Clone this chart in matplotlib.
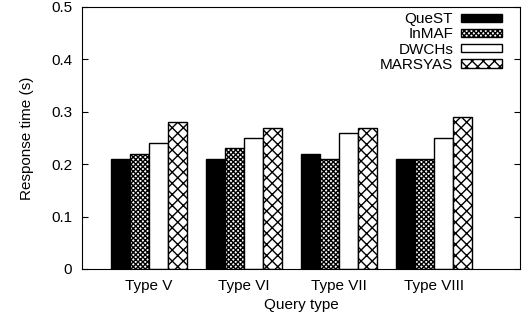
import matplotlib.pyplot as plt
import numpy as np

plt.rcParams["font.family"] = ["Liberation Sans", "DejaVu Sans"]
plt.rcParams["hatch.linewidth"] = 1.0

# data
query_types = ["Type V", "Type VI", "Type VII", "Type VIII"]
methods = ["QueST", "InMAF", "DWCHs", "MARSYAS"]
quest = [0.21, 0.21, 0.22, 0.21]
inmaf = [0.22, 0.23, 0.21, 0.21]
dwchs = [0.24, 0.25, 0.26, 0.25]
marsyas = [0.28, 0.27, 0.27, 0.29]
y_ticks = [0, 0.1, 0.2, 0.3, 0.4, 0.5]

series = [quest, inmaf, dwchs, marsyas]
faces = ["black", "white", "white", "white"]
hatches = [None, "xxxxxxx", None, "xxx"]

fig = plt.figure(figsize=(5.27, 3.22), dpi=100)
ax = fig.add_axes([82 / 527, (322 - 269) / 322, 438 / 527, 262 / 322])

x = np.arange(len(query_types))
width = 0.2
for i, (name, vals) in enumerate(zip(methods, series)):
    ax.bar(x + (i - 1.5) * width, vals, width, color=faces[i], edgecolor="black",
           hatch=hatches[i], linewidth=1.0, label=name)

ax.set_xlim(-0.705, 3.905)
ax.set_ylim(0, 0.5)
ax.set_yticks(y_ticks)
ax.set_yticklabels(["0", "0.1", "0.2", "0.3", "0.4", "0.5"])
ax.set_xticks(x)
ax.set_xticklabels(query_types)
ax.tick_params(axis="y", direction="in", right=True, length=4, labelsize=11, pad=7)
ax.tick_params(axis="x", length=0, labelsize=11, pad=7)
ax.set_xlabel("Query type", fontsize=11, labelpad=4)
ax.set_ylabel("Response time (s)", fontsize=11, labelpad=12)

ax.legend(loc="upper right", bbox_to_anchor=(0.959, 0.98), frameon=False,
          markerfirst=False, fontsize=11, handlelength=2.7, handleheight=0.45,
          labelspacing=0.08, borderaxespad=0, borderpad=0, handletextpad=0.5)

fig.savefig("out.png", dpi=100)
